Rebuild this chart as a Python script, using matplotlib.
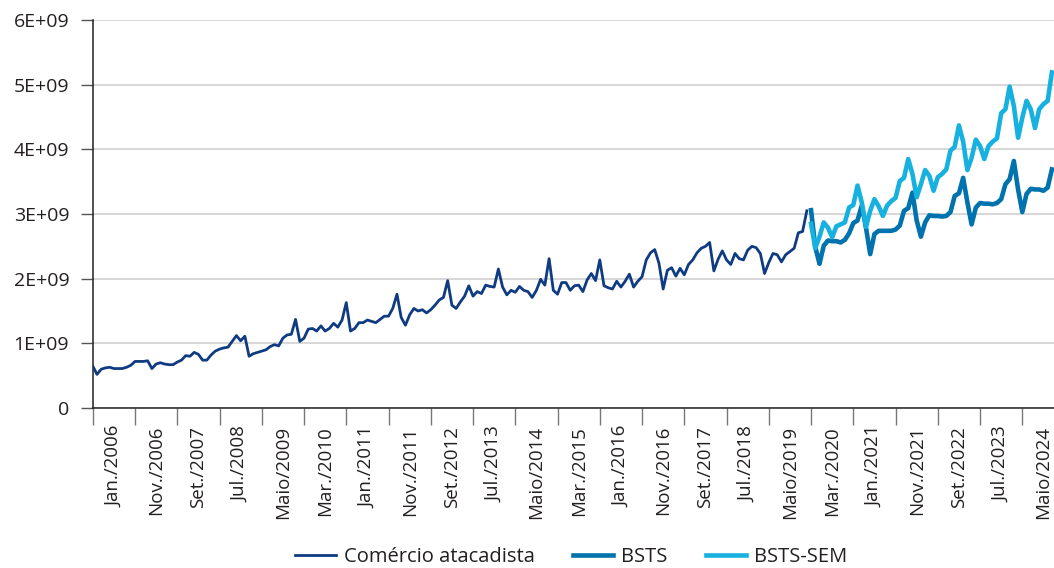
import numpy as np
import matplotlib
matplotlib.use("Agg")
import matplotlib.pyplot as plt

plt.rcParams["font.family"] = ["Open Sans", "DejaVu Sans"]

# ---------------------------------------------------------------------
# Dados (valores em bilhões)
# ---------------------------------------------------------------------
atacadista = [
    0.65, 0.52, 0.60, 0.62, 0.63, 0.61, 0.61, 0.61, 0.63, 0.66, 0.72, 0.72,
    0.72, 0.73, 0.61, 0.68, 0.70, 0.68, 0.67, 0.67, 0.71, 0.74, 0.81, 0.80,
    0.86, 0.83, 0.74, 0.74, 0.82, 0.88, 0.91, 0.93, 0.94, 1.03, 1.12, 1.04,
    1.11, 0.80, 0.84, 0.86, 0.88, 0.90, 0.95, 0.98, 0.96, 1.08, 1.13, 1.14,
    1.37, 1.03, 1.08, 1.22, 1.23, 1.19, 1.27, 1.19, 1.23, 1.31, 1.25, 1.36,
    1.63, 1.19, 1.23, 1.32, 1.32, 1.36, 1.34, 1.32, 1.37, 1.42, 1.42, 1.54,
    1.76, 1.40, 1.28, 1.44, 1.54, 1.50, 1.52, 1.47, 1.52, 1.59, 1.67, 1.71,
    1.97, 1.59, 1.54, 1.64, 1.73, 1.89, 1.73, 1.80, 1.77, 1.90, 1.88, 1.87,
    2.15, 1.87, 1.75, 1.82, 1.79, 1.88, 1.82, 1.80, 1.71, 1.82, 1.99, 1.90,
    2.31, 1.82, 1.76, 1.94, 1.94, 1.82, 1.89, 1.90, 1.80, 1.98, 2.08, 1.97,
    2.29, 1.89, 1.86, 1.84, 1.96, 1.87, 1.96, 2.07, 1.87, 1.96, 2.03, 2.29,
    2.40, 2.45, 2.24, 1.84, 2.13, 2.17, 2.04, 2.16, 2.06, 2.22, 2.29, 2.40,
    2.47, 2.50, 2.56, 2.12, 2.30, 2.43, 2.29, 2.22, 2.39, 2.31, 2.29, 2.44,
    2.50, 2.48, 2.39, 2.08, 2.25, 2.39, 2.37, 2.26, 2.37, 2.42, 2.47, 2.71,
    2.73, 3.05,
]

bsts = [
    3.06, 2.49, 2.23, 2.51, 2.59, 2.58, 2.58, 2.56, 2.60, 2.70, 2.86, 2.90,
    3.13, 2.79, 2.38, 2.69, 2.74, 2.74, 2.74, 2.74, 2.76, 2.82, 3.05, 3.09,
    3.33, 2.90, 2.65, 2.87, 2.98, 2.97, 2.97, 2.96, 2.97, 3.03, 3.28, 3.32,
    3.56, 3.18, 2.84, 3.10, 3.17, 3.16, 3.16, 3.15, 3.17, 3.23, 3.46, 3.54,
    3.82, 3.38, 3.03, 3.31, 3.39, 3.38, 3.38, 3.36, 3.41, 3.69,
]

bsts_sem = [
    2.85, 2.47, 2.65, 2.87, 2.79, 2.64, 2.81, 2.84, 2.87, 3.10, 3.14, 3.44,
    3.18, 2.80, 3.05, 3.23, 3.12, 2.97, 3.13, 3.20, 3.25, 3.51, 3.56, 3.85,
    3.62, 3.26, 3.46, 3.68, 3.59, 3.36, 3.57, 3.62, 3.69, 3.98, 4.04, 4.37,
    4.12, 3.68, 3.87, 4.15, 4.05, 3.85, 4.05, 4.12, 4.17, 4.56, 4.62, 4.97,
    4.67, 4.18, 4.49, 4.75, 4.62, 4.33, 4.62, 4.70, 4.75, 5.19,
]

rotulos_x = [
    "Jan./2006", "Nov./2006", "Set./2007", "Jul./2008", "Maio/2009",
    "Mar./2010", "Jan./2011", "Nov./2011", "Set./2012", "Jul./2013",
    "Maio/2014", "Mar./2015", "Jan./2016", "Nov./2016", "Set./2017",
    "Jul./2018", "Maio/2019", "Mar./2020", "Jan./2021", "Nov./2021",
    "Set./2022", "Jul./2023", "Maio/2024",
]
rotulos_y = ["0", "1E+09", "2E+09", "3E+09", "4E+09", "5E+09", "6E+09"]

# ---------------------------------------------------------------------
# Figura
# ---------------------------------------------------------------------
n_hist = len(atacadista)
n_total = n_hist + len(bsts)
x_hist = np.arange(n_hist)
x_prev = np.arange(n_hist, n_total)

fig = plt.figure(figsize=(10.54, 5.68), dpi=100)
ax = fig.add_axes([0.088, 0.2817, 0.912, 0.683])

ax.plot(x_hist, np.array(atacadista) * 1e9, color="#0f3b82", lw=2.0,
        label="Comércio atacadista", zorder=3)
ax.plot(x_prev, np.array(bsts) * 1e9, color="#0072ad", lw=3.3,
        label="BSTS", zorder=3)
ax.plot(x_prev, np.array(bsts_sem) * 1e9, color="#17b1e0", lw=3.3,
        label="BSTS-SEM", zorder=4)

ax.set_xlim(0, n_total - 0.5)
ax.set_ylim(0, 6e9)

# eixo y
ax.set_yticks(np.arange(len(rotulos_y)) * 1e9)
ax.set_yticklabels(rotulos_y)
ax.tick_params(axis="y", length=9, width=1, color="#555555", pad=8,
               labelsize=14, labelcolor="#231f20")
ax.grid(axis="y", color="#d4d4d4", lw=1.3, zorder=0)

# eixo x: marcas a cada 10 meses, rótulos entre elas
ax.set_xticks(np.arange(0, n_total, 10))
ax.set_xticklabels([])
ax.set_xticks(np.arange(len(rotulos_x)) * 10 + 5, minor=True)
ax.set_xticklabels(rotulos_x, minor=True, rotation=90)
ax.tick_params(axis="x", which="major", length=12, width=1, color="#777777")
ax.tick_params(axis="x", which="minor", length=0, pad=13, labelsize=13.5,
               labelcolor="#231f20")

for lado in ("top", "right"):
    ax.spines[lado].set_visible(False)
ax.spines["left"].set_color("#231f20")
ax.spines["bottom"].set_color("#231f20")
ax.spines["left"].set_linewidth(1.1)
ax.spines["bottom"].set_linewidth(1.1)

leg = fig.legend(loc="center", bbox_to_anchor=(0.542, 0.02), ncol=3,
                 frameon=False, fontsize=14.5, handlelength=2.0,
                 columnspacing=1.9, handletextpad=0.4)
for t in leg.get_texts():
    t.set_color("#231f20")

fig.savefig("out.png", dpi=100)
